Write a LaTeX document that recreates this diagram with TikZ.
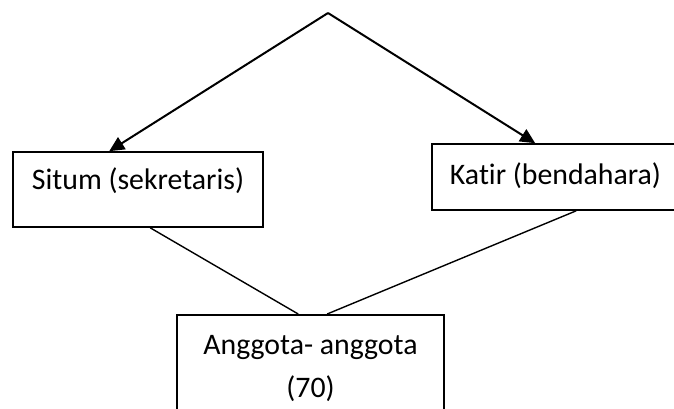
\documentclass[tikz,border=0pt]{standalone}
\usepackage{fontspec}
\setmainfont{Carlito}[Ligatures=NoCommon]
\usepackage{tikz}
\usetikzlibrary{arrows.meta, positioning, calc}

\begin{document}
\begin{tikzpicture}[
  x=1pt, y=-1pt,
  box/.style={draw, line width=1.6pt, fill=white, inner sep=0pt,
    font=\fontsize{29.8}{43.4}\selectfont},
  arr/.style={line width=2pt, -{Triangle[length=15pt, width=14pt]}},
  link/.style={line width=1.4pt},
]
\path[use as bounding box, clip] (0,0) rectangle (674,409);

\coordinate (top) at (328,13);
\node[box, minimum width=250pt, text height=37pt, text depth=38pt]   (situm) at (138,189.5) {Situm (sekretaris)};
\node[box, minimum width=247pt, text height=40.5pt, text depth=25.5pt] (katir) at (555.5,177) {Katir (bendahara)};
\node[box, minimum width=267pt, align=center, anchor=north] (anggota) at (310.5,314)
  {\rule{0pt}{39.3pt}Anggota- anggota\\(70)\rule[-60pt]{0pt}{60pt}};

\draw[arr] (top) -- ([xshift=97pt]situm.north west);
\draw[arr] (top) -- ([xshift=104pt]katir.north west);

\draw[link] ([xshift=138pt]situm.south west) -- ([xshift=122pt]anggota.north west);
\draw[link] ([xshift=145pt]katir.south west) -- ([xshift=151pt]anggota.north west);
\end{tikzpicture}
\end{document}
